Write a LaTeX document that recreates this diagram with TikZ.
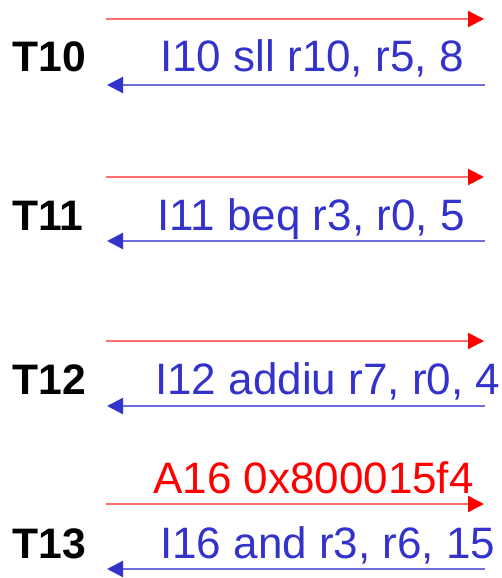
\documentclass[tikz,border=0pt]{standalone}
\usepackage{fontspec}
\setmainfont{Liberation Sans}
\usetikzlibrary{arrows.meta}
\definecolor{fwdred}{RGB}{255,0,0}
\definecolor{fwdline}{RGB}{255,110,110}
\definecolor{backblue}{RGB}{51,51,204}
\definecolor{backline}{RGB}{110,110,222}
\begin{document}
\begin{tikzpicture}[x=0.75pt, y=-0.75pt,
  cyc/.style = {anchor=base west, inner sep=0pt, font=\fontsize{32}{38}\selectfont\bfseries},
  instr/.style = {anchor=base west, inner sep=0pt, text=backblue, font=\fontsize{33}{40}\selectfont},
  addr/.style = {anchor=base west, inner sep=0pt, text=fwdred, font=\fontsize{33}{40}\selectfont},
  fwd/.style = {draw=fwdline, line width=1.6pt, -{Triangle[length=12pt, width=12pt, color=fwdred]}},
  back/.style = {draw=backline, line width=1.6pt, -{Triangle[length=12pt, width=12pt, color=backblue]}}]
\useasboundingbox (0,0) rectangle (502,578);

\node[cyc] (t10) at (12,71) {T10};
\node[instr] (i10) at (160,71) {I10 sll r10, r5, 8};
\coordinate (r10a) at (106,19); \coordinate (r10b) at (484,19);
\coordinate (b10a) at (485,85); \coordinate (b10b) at (107,85);
\draw[fwd] (r10a) -- (r10b);
\draw[back] (b10a) -- (b10b);

\node[cyc] (t11) at (12,230) {T11};
\node[instr] (i11) at (157,230) {I11 beq r3, r0, 5};
\coordinate (r11a) at (106,177); \coordinate (r11b) at (484,177);
\coordinate (b11a) at (485,241); \coordinate (b11b) at (107,241);
\draw[fwd] (r11a) -- (r11b);
\draw[back] (b11a) -- (b11b);

\node[cyc] (t12) at (12,394) {T12};
\node[instr] (i12) at (155,394) {I12 addiu r7, r0, 4};
\coordinate (r12a) at (106,341); \coordinate (r12b) at (484,341);
\coordinate (b12a) at (485,406); \coordinate (b12b) at (107,406);
\draw[fwd] (r12a) -- (r12b);
\draw[back] (b12a) -- (b12b);

\node[cyc] (t13) at (12,558) {T13};
\node[addr] (a16) at (153,493) {A16 0x800015f4};
\node[instr] (i16) at (160,558) {I16 and r3, r6, 15};
\coordinate (r13a) at (106,504); \coordinate (r13b) at (484,504);
\coordinate (b13a) at (485,569); \coordinate (b13b) at (107,569);
\draw[fwd] (r13a) -- (r13b);
\draw[back] (b13a) -- (b13b);
\end{tikzpicture}
\end{document}
